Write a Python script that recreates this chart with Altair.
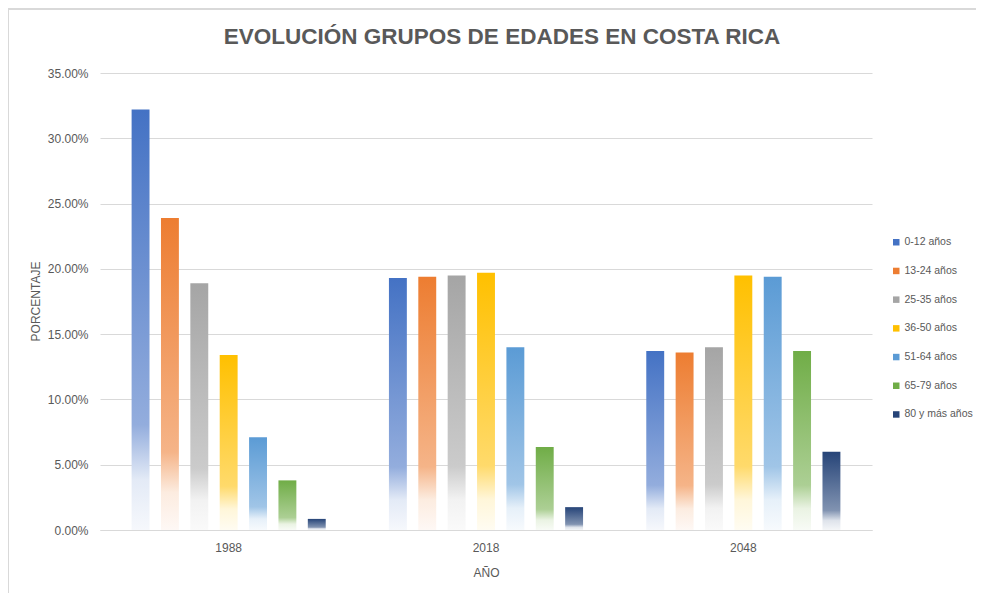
import altair as alt
import pandas as pd

title_text = "EVOLUCIÓN GRUPOS DE EDADES EN COSTA RICA"
years = ["1988", "2018", "2048"]
groups = ["0-12  años", "13-24 años", "25-35 años", "36-50 años",
          "51-64 años", "65-79 años", "80 y más años"]
colors = ["#4472C4", "#ED7D31", "#A5A5A5", "#FFC000", "#5B9BD5", "#70AD47", "#264478"]
v1988 = [32.2, 23.9, 18.9, 13.4, 7.1, 3.8, 0.85]
v2018 = [19.3, 19.4, 19.5, 19.7, 14.0, 6.35, 1.75]
v2048 = [13.7, 13.6, 14.0, 19.5, 19.4, 13.7, 6.0]

rows = []
for y, vals in zip(years, [v1988, v2018, v2048]):
    for g, v in zip(groups, vals):
        rows.append({"año": y, "grupo": g, "valor": v / 100})
df = pd.DataFrame(rows)

FONT = "Liberation Sans Narrow, Liberation Sans, Arial, sans-serif"
GREY = "#595959"


def mix(hexc, t):
    h = hexc.lstrip("#")
    r, g, b = (int(h[i:i + 2], 16) for i in (0, 2, 4))
    r, g, b = (round(c + (255 - c) * t) for c in (r, g, b))
    return f"#{r:02x}{g:02x}{b:02x}"


x_enc = alt.X("año:N", sort=years,
              scale=alt.Scale(paddingInner=0.2, paddingOuter=0.1),
              axis=alt.Axis(title="AÑO", labelAngle=0, ticks=False,
                            domainColor="#d9d9d9", labelPadding=12, titlePadding=14))
xo_enc = alt.XOffset("grupo:N", sort=groups,
                     scale=alt.Scale(domain=groups, paddingInner=0.39, paddingOuter=0.2))
y_enc = alt.Y("valor:Q",
              scale=alt.Scale(domain=[0, 0.35]),
              axis=alt.Axis(title="PORCENTAJE", format=".2%",
                            values=[0, 0.05, 0.1, 0.15, 0.2, 0.25, 0.3, 0.35],
                            ticks=False, domain=False, gridColor="#d9d9d9",
                            labelPadding=12, titleX=-58, titleY=228))

base = alt.Chart(df)

legend_layer = base.mark_bar(opacity=0).encode(
    x=x_enc, xOffset=xo_enc, y=y_enc,
    color=alt.Color("grupo:N", sort=groups,
                    scale=alt.Scale(domain=groups, range=colors),
                    legend=alt.Legend(title=None, orient="none", legendX=791, legendY=164,
                                      symbolType="square", symbolSize=42, symbolOpacity=1,
                                      rowPadding=17.7, labelFontSize=10.5, labelColor=GREY,
                                      labelFont=FONT, symbolStrokeWidth=0, labelOffset=3,
                                      labelLimit=200)),
)

layers = [legend_layer]
for g, c in zip(groups, colors):
    grad = alt.Gradient(
        gradient="linear", x1=0, x2=0, y1=0, y2=1,
        stops=[alt.GradientStop(offset=0, color=c),
               alt.GradientStop(offset=0.75, color=mix(c, 0.42)),
               alt.GradientStop(offset=0.88, color=mix(c, 0.85)),
               alt.GradientStop(offset=1, color=mix(c, 0.95))])
    layers.append(
        base.transform_filter(alt.datum.grupo == g)
        .mark_bar(color=grad)
        .encode(x=x_enc, xOffset=xo_enc, y=y_enc)
    )

frame = alt.Chart(pd.DataFrame({"t": [title_text]}))
border_left = frame.mark_rule(color="#d9d9d9", strokeWidth=2).encode(
    x=alt.value(-92), y=alt.value(-70), y2=alt.value(530))
border_top = frame.mark_rule(color="#d9d9d9", strokeWidth=2).encode(
    x=alt.value(-92), x2=alt.value(890), y=alt.value(-64))
title_mark = frame.mark_text(font=FONT, fontSize=22.5, fontWeight="bold", color=GREY,
                             align="center", baseline="middle").encode(
    text="t:N", x=alt.value(402), y=alt.value(-36))
layers += [border_left, border_top, title_mark]

chart = alt.layer(*layers).properties(
    width=772, height=457,
    autosize=alt.AutoSizeParams(type="none"),
    padding={"left": 92, "top": 65, "right": 104, "bottom": 63},
    background="white",
).configure_view(stroke=None).configure_axis(
    labelFont=FONT, labelFontSize=12, labelColor=GREY,
    titleFont=FONT, titleFontSize=12, titleColor=GREY, titleFontWeight="normal",
)

chart.save("out.html", embed_options={"renderer": "svg", "actions": False})
